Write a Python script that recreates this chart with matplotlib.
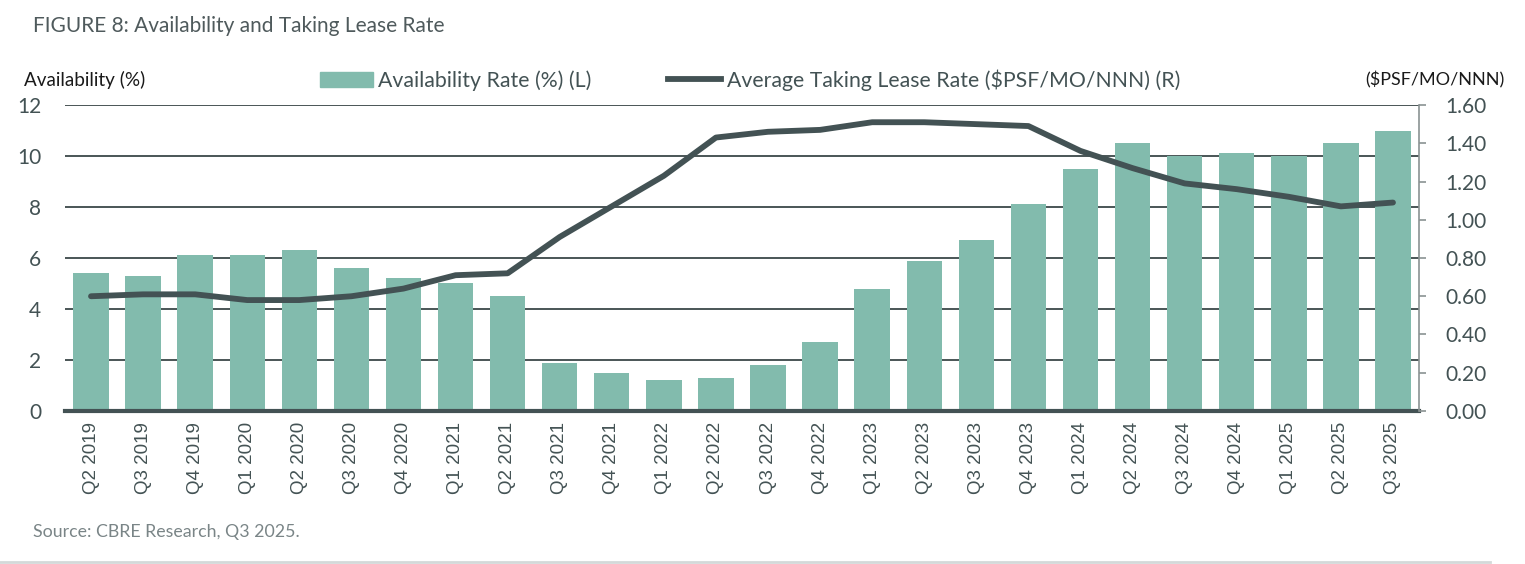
import matplotlib
matplotlib.use("Agg")
import matplotlib.pyplot as plt
import matplotlib.patches as mpatches
from matplotlib.lines import Line2D
import numpy as np

plt.rcParams['font.family'] = ['Lato', 'DejaVu Sans']

quarters = ["Q2 2019", "Q3 2019", "Q4 2019", "Q1 2020", "Q2 2020", "Q3 2020", "Q4 2020",
            "Q1 2021", "Q2 2021", "Q3 2021", "Q4 2021", "Q1 2022", "Q2 2022", "Q3 2022",
            "Q4 2022", "Q1 2023", "Q2 2023", "Q3 2023", "Q4 2023", "Q1 2024", "Q2 2024",
            "Q3 2024", "Q4 2024", "Q1 2025", "Q2 2025", "Q3 2025"]
availability = [5.4, 5.3, 6.1, 6.1, 6.3, 5.6, 5.2, 5.0, 4.5, 1.9, 1.5, 1.2, 1.3, 1.8,
                2.7, 4.8, 5.9, 6.7, 8.1, 9.5, 10.5, 10.0, 10.1, 10.0, 10.5, 11.0]
lease_rate = [0.60, 0.61, 0.61, 0.58, 0.58, 0.60, 0.64, 0.71, 0.72, 0.91, 1.07, 1.23, 1.43,
              1.46, 1.47, 1.51, 1.51, 1.50, 1.49, 1.36, 1.27, 1.19, 1.16, 1.12, 1.07, 1.09]

bar_color = '#82BBAD'
line_color = '#435254'
text_color = '#435254'

fig = plt.figure(figsize=(15.25, 5.64), dpi=100)
ax = fig.add_axes([0.0426, 0.2713, 0.8879, 0.5425])
ax2 = ax.twinx()

x = np.arange(len(quarters))
ax.bar(x, availability, width=0.68, color=bar_color, zorder=2)
ax2.plot(x, lease_rate, color=line_color, linewidth=4.2, solid_capstyle='round', zorder=3)

ax.set_xlim(-0.5, len(quarters) - 0.5)
ax.set_ylim(0, 12)
ax.set_yticks(range(0, 13, 2))
ax2.set_ylim(0, 1.6)
ax2.set_yticks(np.arange(0, 1.61, 0.2))
ax2.set_yticklabels([f"{v:.2f}" for v in np.arange(0, 1.61, 0.2)])

# gridlines sit behind the bars
ax.set_axisbelow(True)
ax.yaxis.grid(True, color='#4a5556', linewidth=1.4)
ax.set_xticks(x)
ax.set_xticklabels(quarters, rotation=90, family='Liberation Sans', fontsize=13.5, color=text_color)
ax.tick_params(axis='x', length=0, pad=8)
ax.tick_params(axis='y', length=0, pad=17, labelsize=15, labelcolor=text_color)
ax2.tick_params(axis='y', length=5, width=1.2, color='#8a9292', pad=14, labelsize=15, labelcolor=text_color)

for s in ['top', 'left', 'right']:
    ax.spines[s].set_visible(False)
for s in ['top', 'left', 'bottom']:
    ax2.spines[s].set_visible(False)
ax2.spines['right'].set_color('#8a9292')
ax2.spines['right'].set_linewidth(1.2)
ax.spines['bottom'].set_color(line_color)
ax.spines['bottom'].set_linewidth(3)
ax.spines['bottom'].set_zorder(4)

fig.text(33 / 1525, 1 - 26 / 564, "FIGURE 8: Availability and Taking Lease Rate",
         fontsize=15, color='#4f5a5c', va='center', ha='left')
fig.text(24 / 1525, 1 - 80 / 564, "Availability (%)", fontsize=13.6, color='#1a1a1a',
         va='center', ha='left')
fig.text(1505 / 1525, 1 - 80 / 564, "($PSF/MO/NNN)", fontsize=13, color='#1a1a1a',
         va='center', ha='right')
fig.text(33 / 1525, 1 - 532 / 564, "Source: CBRE Research, Q3 2025.", fontsize=12.8,
         color='#7a8587', va='center', ha='left')

handles = [mpatches.Patch(color=bar_color, label="Availability Rate (%) (L)"),
           Line2D([0], [0], color=line_color, linewidth=4.2, label="Average Taking Lease Rate ($PSF/MO/NNN) (R)")]
leg = fig.legend(handles=handles, loc='center', bbox_to_anchor=(750 / 1525, 1 - 80 / 564), ncol=2,
                 frameon=False, fontsize=15.3, handlelength=2.5, handletextpad=0.25, columnspacing=3.6)
for t in leg.get_texts():
    t.set_color(text_color)

fig.add_artist(Line2D([0, 1490 / 1525], [1 - 562 / 564, 1 - 562 / 564], color='#d4d9d9', linewidth=2,
                      transform=fig.transFigure))

fig.savefig("out.png", dpi=100)
